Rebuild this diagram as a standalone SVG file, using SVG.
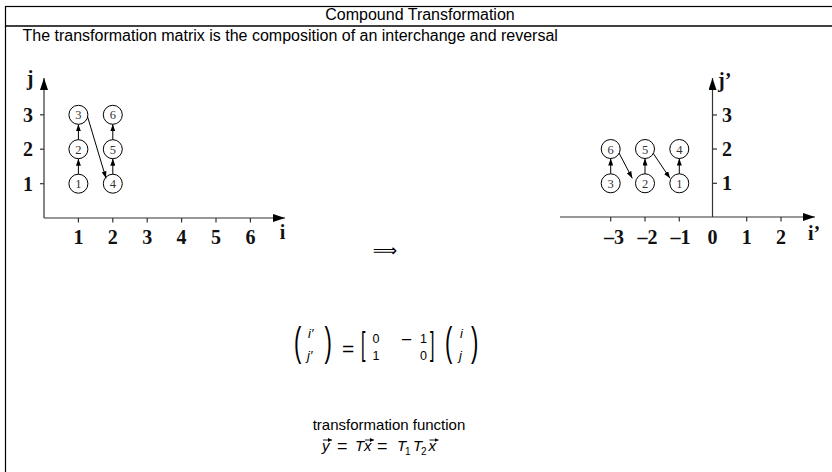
<svg xmlns="http://www.w3.org/2000/svg" width="832" height="472" viewBox="0 0 832 472">
<style>
.hdr{font-family:"Liberation Sans",Arial,sans-serif;font-size:16px;fill:#000}
.ax{stroke:#333;stroke-width:1.2;fill:none}
.tk{stroke:#333;stroke-width:1.2}
.tl{font-family:"Liberation Serif","Times New Roman",serif;font-weight:bold;font-size:20px;fill:#111}
.nd circle{fill:#fff;stroke:#000;stroke-width:1}
.nd text{font-family:"Liberation Serif","Times New Roman",serif;font-size:12.5px;fill:#333;text-anchor:middle}
.ed{stroke:#000;stroke-width:1;fill:none;marker-end:url(#ah)}
.m{font-family:"Liberation Sans",Arial,sans-serif;font-size:12.5px;fill:#000}
.mi{font-family:"Liberation Sans",Arial,sans-serif;font-size:13px;font-style:italic;fill:#000}
.dl{font-family:"Liberation Sans",Arial,sans-serif;fill:#000}
.ft{font-family:"Liberation Sans",Arial,sans-serif;font-size:15px;fill:#000}
.fi{font-family:"Liberation Sans",Arial,sans-serif;font-size:15px;font-style:italic;fill:#000}
.sb{font-family:"Liberation Sans",Arial,sans-serif;font-size:10px;fill:#000}
.va{stroke:#000;stroke-width:0.9;fill:none;marker-end:url(#vh)}
</style>
<defs>
<marker id="ah" markerUnits="userSpaceOnUse" markerWidth="7" markerHeight="5" refX="7" refY="2.5" orient="auto"><path d="M0,0 L7,2.5 L0,5 z" fill="#000"/></marker>
<marker id="axh" markerUnits="userSpaceOnUse" markerWidth="12" markerHeight="8" refX="12" refY="4" orient="auto"><path d="M0,0 L12,4 L0,8 z" fill="#000"/></marker>
<marker id="vh" markerUnits="userSpaceOnUse" markerWidth="4" markerHeight="4" refX="4" refY="2" orient="auto"><path d="M0,0 L4,2 L0,4 z" fill="#000"/></marker>
</defs>

<g id="frame">
<rect x="5.5" y="6.5" width="900" height="500" fill="none" stroke="#000" stroke-width="1.2"/>
<line x1="5.5" y1="26" x2="832" y2="26" stroke="#000" stroke-width="1.5"/>
<text class="hdr" x="420" y="20" text-anchor="middle">Compound Transformation</text>
<text class="hdr" x="22.5" y="41">The transformation matrix is the composition of an interchange and reversal</text>
</g>

<g id="left-axes">
<line class="ax" x1="44" y1="218" x2="44" y2="78" marker-end="url(#axh)"/>
<line class="ax" x1="44" y1="218" x2="285" y2="218" marker-end="url(#axh)"/>
<line class="tk" x1="40" y1="183.7" x2="44" y2="183.7"/>
<line class="tk" x1="40" y1="149.2" x2="44" y2="149.2"/>
<line class="tk" x1="40" y1="114.8" x2="44" y2="114.8"/>
<line class="tk" x1="78.4" y1="218" x2="78.4" y2="222.5"/>
<line class="tk" x1="112.8" y1="218" x2="112.8" y2="222.5"/>
<line class="tk" x1="147.2" y1="218" x2="147.2" y2="222.5"/>
<line class="tk" x1="181.6" y1="218" x2="181.6" y2="222.5"/>
<line class="tk" x1="216" y1="218" x2="216" y2="222.5"/>
<line class="tk" x1="250.4" y1="218" x2="250.4" y2="222.5"/>
<text class="tl" x="33" y="190.7" text-anchor="end">1</text>
<text class="tl" x="33" y="156.2" text-anchor="end">2</text>
<text class="tl" x="33" y="121.8" text-anchor="end">3</text>
<text class="tl" x="78.4" y="244" text-anchor="middle">1</text>
<text class="tl" x="112.8" y="244" text-anchor="middle">2</text>
<text class="tl" x="147.2" y="244" text-anchor="middle">3</text>
<text class="tl" x="181.6" y="244" text-anchor="middle">4</text>
<text class="tl" x="216" y="244" text-anchor="middle">5</text>
<text class="tl" x="250.4" y="244" text-anchor="middle">6</text>
<text class="tl" x="282.5" y="239" text-anchor="middle">i</text>
<text class="tl" x="30" y="85" text-anchor="middle">j</text>
</g>

<g id="L1" class="nd"><circle cx="78.4" cy="183.7" r="9.5"/><text x="78.4" y="188.2">1</text></g>
<g id="L2" class="nd"><circle cx="78.4" cy="149.2" r="9.5"/><text x="78.4" y="153.7">2</text></g>
<g id="L3" class="nd"><circle cx="78.4" cy="114.8" r="9.5"/><text x="78.4" y="119.3">3</text></g>
<g id="L4" class="nd"><circle cx="112.8" cy="183.7" r="9.5"/><text x="112.8" y="188.2">4</text></g>
<g id="L5" class="nd"><circle cx="112.8" cy="149.2" r="9.5"/><text x="112.8" y="153.7">5</text></g>
<g id="L6" class="nd"><circle cx="112.8" cy="114.8" r="9.5"/><text x="112.8" y="119.3">6</text></g>

<g id="right-axes">
<line class="ax" x1="712.5" y1="217" x2="712.5" y2="78" marker-end="url(#axh)"/>
<line class="ax" x1="560" y1="217" x2="815" y2="217" marker-end="url(#axh)"/>
<line class="tk" x1="712.5" y1="183.3" x2="717" y2="183.3"/>
<line class="tk" x1="712.5" y1="149" x2="717" y2="149"/>
<line class="tk" x1="712.5" y1="115" x2="717" y2="115"/>
<line class="tk" x1="610.7" y1="217" x2="610.7" y2="221.5"/>
<line class="tk" x1="645" y1="217" x2="645" y2="221.5"/>
<line class="tk" x1="679.3" y1="217" x2="679.3" y2="221.5"/>
<line class="tk" x1="746.7" y1="217" x2="746.7" y2="221.5"/>
<line class="tk" x1="781" y1="217" x2="781" y2="221.5"/>
<text class="tl" x="722" y="190.3">1</text>
<text class="tl" x="722" y="156">2</text>
<text class="tl" x="722" y="122">3</text>
<text class="tl" x="614" y="244" text-anchor="middle">–3</text>
<text class="tl" x="647.5" y="244" text-anchor="middle">–2</text>
<text class="tl" x="680.5" y="244" text-anchor="middle">–1</text>
<text class="tl" x="712.5" y="244" text-anchor="middle">0</text>
<text class="tl" x="746.7" y="244" text-anchor="middle">1</text>
<text class="tl" x="781" y="244" text-anchor="middle">2</text>
<text class="tl" x="808" y="240">i’</text>
<text class="tl" x="718" y="86.5">j’</text>
</g>

<g id="R1" class="nd"><circle cx="679.3" cy="183.3" r="9.5"/><text x="679.3" y="187.8">1</text></g>
<g id="R2" class="nd"><circle cx="645" cy="183.3" r="9.5"/><text x="645" y="187.8">2</text></g>
<g id="R3" class="nd"><circle cx="610.7" cy="183.3" r="9.5"/><text x="610.7" y="187.8">3</text></g>
<g id="R4" class="nd"><circle cx="679.3" cy="149" r="9.5"/><text x="679.3" y="153.5">4</text></g>
<g id="R5" class="nd"><circle cx="645" cy="149" r="9.5"/><text x="645" y="153.5">5</text></g>
<g id="R6" class="nd"><circle cx="610.7" cy="149" r="9.5"/><text x="610.7" y="153.5">6</text></g>

<g id="edges">
<line class="ed" x1="78.4" y1="174.2" x2="78.4" y2="158.7"/>
<line class="ed" x1="78.4" y1="139.7" x2="78.4" y2="124.3"/>
<line class="ed" x1="87.5" y1="116.5" x2="106" y2="178.3"/>
<line class="ed" x1="112.8" y1="174.2" x2="112.8" y2="158.7"/>
<line class="ed" x1="112.8" y1="139.7" x2="112.8" y2="124.3"/>
<line class="ed" x1="610.7" y1="173.8" x2="610.7" y2="158.5"/>
<line class="ed" x1="645" y1="173.8" x2="645" y2="158.5"/>
<line class="ed" x1="679.3" y1="173.8" x2="679.3" y2="158.5"/>
<line class="ed" x1="619" y1="153" x2="632.3" y2="178.3"/>
<line class="ed" x1="653" y1="153" x2="670" y2="178.3"/>
</g>

<g id="implies">
<text x="385" y="256" text-anchor="middle" font-family="DejaVu Sans, sans-serif" font-size="17">⟹</text>
</g>

<g id="equation">
<text class="dl" style="font-size:22px" transform="translate(294,355.7) scale(1,1.85)">(</text>
<text class="mi" x="308" y="338">i′</text>
<text class="mi" x="307" y="359.5">j′</text>
<text class="dl" style="font-size:22px" transform="translate(324.5,355.7) scale(1,1.85)">)</text>
<text class="dl" style="font-size:21px" x="342" y="356">=</text>
<text class="dl" style="font-size:16px" transform="translate(361,354.5) scale(1,2.1)">[</text>
<text class="m" x="372.5" y="343">0</text>
<text class="m" x="372.5" y="360">1</text>
<text class="dl" style="font-size:19px" x="401" y="345.5">−</text>
<text class="m" x="420" y="343">1</text>
<text class="m" x="420" y="360">0</text>
<text class="dl" style="font-size:16px" transform="translate(430,354.5) scale(1,2.1)">]</text>
<text class="dl" style="font-size:22px" transform="translate(445,355.7) scale(1,1.85)">(</text>
<text class="mi" x="460" y="338">i</text>
<text class="mi" x="459" y="359.5">j</text>
<text class="dl" style="font-size:22px" transform="translate(471,355.7) scale(1,1.85)">)</text>
</g>

<g id="function">
<text class="ft" x="389" y="430" text-anchor="middle">transformation function</text>
<text class="fi" x="322" y="451">y</text>
<line class="va" x1="323" y1="440" x2="332" y2="440"/>
<text class="ft" style="font-size:18px" x="337" y="452">=</text>
<text class="fi" x="355" y="451">T</text>
<text class="fi" x="364" y="451">x</text>
<line class="va" x1="365" y1="440" x2="374" y2="440"/>
<text class="ft" style="font-size:18px" x="377" y="452">=</text>
<text class="fi" x="397" y="451">T</text>
<text class="sb" x="405" y="455">1</text>
<text class="fi" x="413" y="451">T</text>
<text class="sb" x="421" y="455">2</text>
<text class="fi" x="428.5" y="451">x</text>
<line class="va" x1="429.5" y1="440" x2="438.5" y2="440"/>
</g>
</svg>
